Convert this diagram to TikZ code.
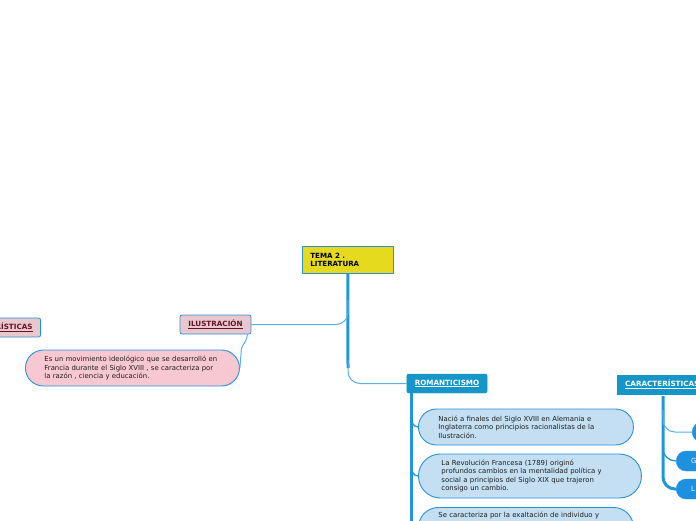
\documentclass[tikz,border=0pt]{standalone}
\usepackage{fontspec}
\setmainfont{DejaVu Sans}
\definecolor{trunkblue}{RGB}{30,150,222}
\definecolor{thinblue}{RGB}{90,175,232}
\definecolor{edgeblue}{RGB}{40,145,220}
\definecolor{tealbox}{RGB}{22,150,200}
\definecolor{lightbubble}{RGB}{196,223,242}
\definecolor{pinkbubble}{RGB}{248,200,210}
\definecolor{pinkbox}{RGB}{232,200,206}
\definecolor{titleyellow}{RGB}{230,218,30}
\definecolor{darkred}{RGB}{100,20,40}
\definecolor{nodeblue}{RGB}{30,144,224}
\definecolor{textgray}{RGB}{30,30,30}
\tikzset{
  trunk/.style={draw=trunkblue, line width=3pt},
  branch/.style={draw=thinblue, line width=1pt},
  titlebox/.style={draw=edgeblue, line width=0.8pt, fill=titleyellow, font=\fontsize{7.1}{8.8}\selectfont\bfseries, text=black, align=left, inner xsep=8pt, inner ysep=4pt, text width=75pt},
  pinkhead/.style={draw=edgeblue, line width=0.8pt, fill=pinkbox, rounded corners=2pt, font=\fontsize{7.2}{8}\selectfont\bfseries, text=darkred, minimum height=19pt, inner xsep=8pt},
  tealhead/.style={draw=tealbox, fill=tealbox, rounded corners=2pt, font=\fontsize{7.2}{8}\selectfont\bfseries, text=white, minimum height=19pt, inner xsep=8pt},
  bubble/.style={draw=edgeblue, line width=0.9pt, font=\fontsize{6.9}{8.6}\selectfont, text=textgray, align=left, inner ysep=3pt},
  bluenode/.style={fill=nodeblue, draw=nodeblue, font=\fontsize{7}{8}\selectfont, text=white, minimum height=20pt, rounded corners=10pt, inner xsep=15pt, text width=60pt, align=left}
}
\begin{document}
\begin{tikzpicture}[x=1pt,y=-1pt]
\useasboundingbox (0,0) rectangle (696,520);
\clip (0,0) rectangle (696,520);

% main title
\node[titlebox, anchor=north west, minimum height=27pt] (tema) at (302,246) {TEMA 2 .\\LITERATURA};

% headings
\node[pinkhead, minimum width=71pt] (ilus) at (215.5,324.5) {\underline{ILUSTRACIÓN}};
\node[pinkhead, anchor=east] (carL) at (41,327.5) {\underline{CARACTERÍSTICAS}};
\node[tealhead, minimum width=80pt] (rom) at (447,383.5) {\underline{ROMANTICISMO}};
\node[tealhead, anchor=west, rounded corners=0pt] (carR) at (617,384.5) {\underline{CARACTERÍSTICAS}};

% bubbles
\node[bubble, fill=pinkbubble, anchor=west, text width=176pt, inner xsep=19pt, minimum height=36pt, rounded corners=18pt] (ilusdesc) at (25,368)
  {Es un movimiento ideológico que se desarrolló en\\Francia durante el Siglo XVIII , se caracteriza por\\la razón , ciencia y educación.};
\node[bubble, fill=lightbubble, anchor=west, text width=175pt, inner xsep=20pt, minimum height=36pt, rounded corners=18pt] (b1) at (418,427)
  {Nació a finales del Siglo XVIII en Alemania e\\Inglaterra como principios racionalistas de la\\Ilustración.};
\node[bubble, fill=lightbubble, anchor=west, text width=177pt, inner xsep=23pt, minimum height=44pt, rounded corners=22pt] (b2) at (418,476)
  {La Revolución Francesa (1789) originó\\profundos cambios en la mentalidad política y\\social a principios del Siglo XIX que trajeron\\consigo un cambio.};
\node[bubble, fill=lightbubble, anchor=north west, text width=175pt, inner xsep=20pt, inner ysep=5pt, rounded corners=20pt] (b3) at (418,507)
  {Se caracteriza por la exaltación de individuo y\\\mbox{}\\\mbox{}\\\mbox{}};

% right-side nodes
\node[bluenode, anchor=west] (r1) at (692,432) {};
\node[bluenode, anchor=west] (r2) at (676,461) {G};
\node[bluenode, anchor=west] (r3) at (676,489) {L};

% connectors
\coordinate (tk) at (348,368);
\draw[trunk] (tema.south) -- (tk);
\draw[branch, rounded corners=12pt] (348,360) |- (rom.west);
\draw[branch, rounded corners=12pt] (348,300) |- (ilus.east);
\draw[branch] ([xshift=-4pt]ilus.south east) .. controls (246,346) and (241,342) .. (241,354) -- (ilusdesc.east);

\coordinate (rs) at (411,393);
\draw[trunk] (rs) -- (411,525);
\draw[trunk, line width=1.3pt] (411,416) to[out=-90,in=180] (b1.west);
\draw[trunk, line width=1.3pt] (411,465) to[out=-90,in=180] (b2.west);
\draw[trunk, line width=1.3pt] (411,512) to[out=-90,in=180] (b3.west);

\coordinate (cs) at (663,396);
\draw[trunk, rounded corners=12pt] (cs) |- (r3.west);
\draw[trunk, line width=1.3pt] (663,449) to[out=-90,in=180] (r2.west);
\draw[branch, rounded corners=12pt] (663,410) |- (r1.west);
\end{tikzpicture}
\end{document}
